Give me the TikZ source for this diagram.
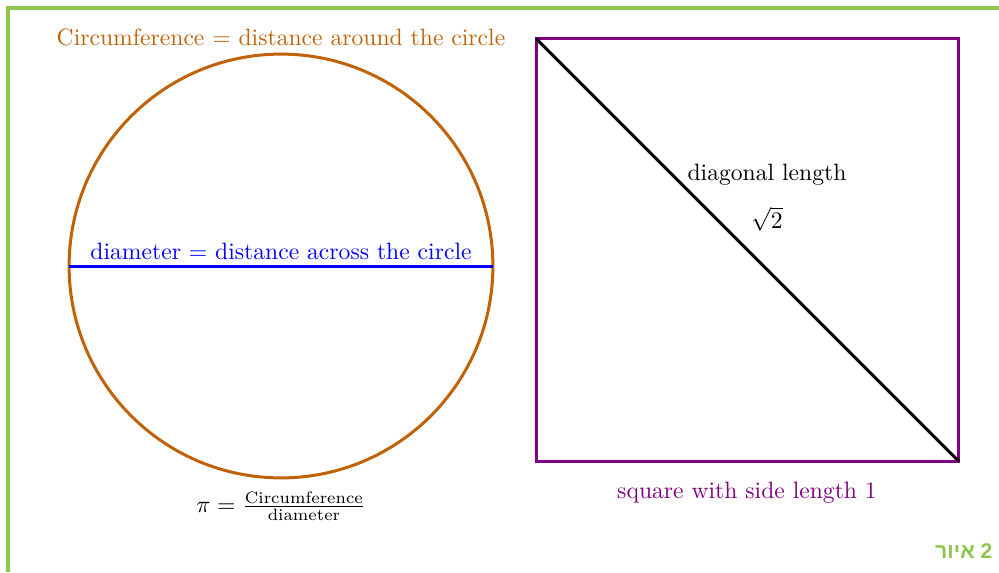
\documentclass[tikz,border=0pt]{standalone}
\usepackage{amsmath}
\usepackage{fontspec}
\newfontfamily\hebfont[Script=Hebrew]{Liberation Sans}
\TeXXeTstate=1
\usetikzlibrary{positioning}
\definecolor{circorange}{RGB}{191, 98, 8}
\definecolor{sqpurple}{RGB}{128, 0, 128}
\definecolor{framegreen}{RGB}{140, 198, 75}

\begin{document}
\begin{tikzpicture}[
  x=0.01487cm, y=-0.01487cm,
  ring/.style={draw=circorange, line width=1.27pt, circle, minimum size=6.305cm, inner sep=0pt, outer sep=0pt},
  sqbox/.style={draw=sqpurple, line width=1.27pt, rectangle, minimum size=6.29cm, inner sep=0pt, outer sep=0pt},
  lbl/.style={inner sep=1pt, font=\normalsize}
]
  \useasboundingbox (0,0) rectangle (999,572);
  % frame
  \draw[framegreen, line width=1.3pt] (8,572) -- (8,8) -- (999,8);

  % circle with its diameter
  \node[ring] (circ) at (281,266) {};
  \draw[blue, line width=1.27pt] (circ.west) -- (circ.east);
  \node[lbl, text=circorange] (circlbl) at (281,37) {Circumference = distance around the circle};
  \node[lbl, text=blue, above=1.5pt of circ.center] (diamlbl) {diameter = distance across the circle};
  \node[lbl] (pilbl) at (281,506) {$\pi = \frac{\mathrm{Circumference}}{\mathrm{diameter}}$};

  % square with its diagonal
  \node[sqbox] (sq) at (747.5,250) {};
  \draw[black, line width=1.27pt] (sq.north west) -- (sq.south east);
  \node[lbl] (diaglbl) at (767,175) {diagonal length};
  \node[lbl, below=6.5pt of diaglbl] (rootlbl) {$\sqrt{2}$};
  \node[lbl, text=sqpurple] (sqlbl) at (747,493) {square with side length 1};

  % figure tag
  \node[anchor=east, inner sep=0pt, text=framegreen, font=\hebfont\fontsize{9}{11}\selectfont\bfseries] (tag) at (993,551) {\beginR 2 איור\endR};
\end{tikzpicture}
\end{document}
